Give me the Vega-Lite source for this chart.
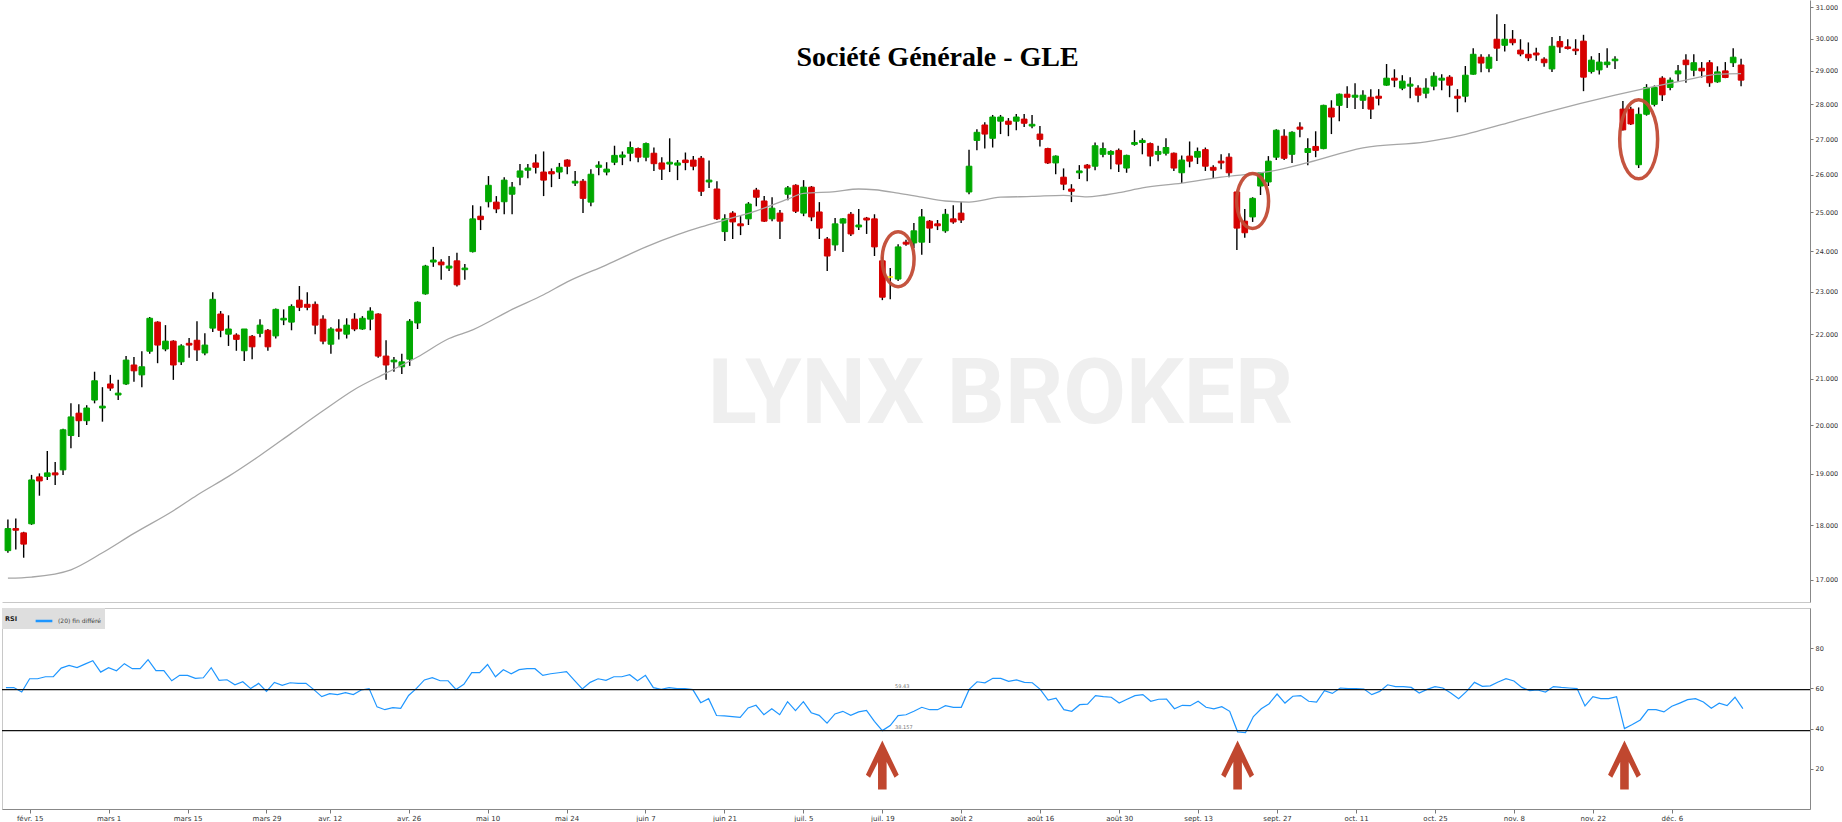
{
  "$schema": "https://vega.github.io/schema/vega-lite/v6.json",
  "padding": 0,
  "background": "white",
  "spacing": 5,
  "resolve": {"legend": {"color": "independent"}, "scale": {"color": "independent"}},
  "config": {"view": {"stroke": null}, "font": "DejaVu Sans", "axis": {"labelFont": "DejaVu Sans"}},
  "datasets": {
    "px": [
      {"d":"2021-02-10","o":17.53,"h":18.11,"l":17.49,"c":17.94,"r":60.4},
      {"d":"2021-02-11","o":17.94,"h":18.13,"l":17.55,"c":17.91,"r":60.4},
      {"d":"2021-02-12","o":17.86,"h":17.88,"l":17.40,"c":17.65,"r":58.2},
      {"d":"2021-02-15","o":18.03,"h":18.98,"l":18.01,"c":18.88,"r":64.8},
      {"d":"2021-02-16","o":18.94,"h":19.01,"l":18.57,"c":18.86,"r":64.8},
      {"d":"2021-02-17","o":18.95,"h":19.46,"l":18.88,"c":19.02,"r":65.8},
      {"d":"2021-02-18","o":19.02,"h":19.24,"l":18.78,"c":18.98,"r":65.8},
      {"d":"2021-02-19","o":19.08,"h":19.92,"l":18.98,"c":19.90,"r":70.1},
      {"d":"2021-02-22","o":19.78,"h":20.46,"l":19.52,"c":20.17,"r":71.4},
      {"d":"2021-02-23","o":20.25,"h":20.44,"l":19.75,"c":20.09,"r":70.4},
      {"d":"2021-02-24","o":20.09,"h":20.42,"l":20.00,"c":20.36,"r":72.1},
      {"d":"2021-02-25","o":20.53,"h":21.15,"l":20.46,"c":20.95,"r":73.8},
      {"d":"2021-02-26","o":20.36,"h":20.81,"l":20.07,"c":20.40,"r":68.1},
      {"d":"2021-03-01","o":20.88,"h":21.08,"l":20.73,"c":20.79,"r":70.3},
      {"d":"2021-03-02","o":20.64,"h":20.97,"l":20.53,"c":20.68,"r":68.8},
      {"d":"2021-03-03","o":20.88,"h":21.50,"l":20.86,"c":21.41,"r":72.3},
      {"d":"2021-03-04","o":21.30,"h":21.48,"l":20.93,"c":21.17,"r":69.8},
      {"d":"2021-03-05","o":21.08,"h":21.61,"l":20.81,"c":21.26,"r":69.8},
      {"d":"2021-03-08","o":21.61,"h":22.40,"l":21.55,"c":22.37,"r":74.3},
      {"d":"2021-03-09","o":22.28,"h":22.30,"l":21.34,"c":21.75,"r":68.8},
      {"d":"2021-03-10","o":21.66,"h":22.21,"l":21.61,"c":21.84,"r":68.8},
      {"d":"2021-03-11","o":21.84,"h":21.86,"l":20.97,"c":21.30,"r":63.8},
      {"d":"2021-03-12","o":21.37,"h":21.77,"l":21.30,"c":21.73,"r":66.5},
      {"d":"2021-03-15","o":21.79,"h":21.91,"l":21.46,"c":21.75,"r":66.5},
      {"d":"2021-03-16","o":21.86,"h":22.30,"l":21.39,"c":21.64,"r":65.0},
      {"d":"2021-03-17","o":21.57,"h":22.02,"l":21.52,"c":21.75,"r":65.3},
      {"d":"2021-03-18","o":22.14,"h":22.99,"l":22.05,"c":22.82,"r":70.3},
      {"d":"2021-03-19","o":22.47,"h":22.54,"l":21.93,"c":22.09,"r":64.0},
      {"d":"2021-03-22","o":22.00,"h":22.44,"l":21.73,"c":22.12,"r":64.3},
      {"d":"2021-03-23","o":21.98,"h":22.02,"l":21.62,"c":21.88,"r":61.8},
      {"d":"2021-03-24","o":21.62,"h":22.12,"l":21.39,"c":22.12,"r":63.3},
      {"d":"2021-03-25","o":21.95,"h":21.98,"l":21.43,"c":21.71,"r":59.9},
      {"d":"2021-03-26","o":22.02,"h":22.35,"l":21.93,"c":22.21,"r":62.5},
      {"d":"2021-03-29","o":22.09,"h":22.12,"l":21.62,"c":21.71,"r":58.5},
      {"d":"2021-03-30","o":21.96,"h":22.60,"l":21.90,"c":22.58,"r":63.0},
      {"d":"2021-03-31","o":22.33,"h":22.58,"l":22.21,"c":22.37,"r":61.5},
      {"d":"2021-04-01","o":22.28,"h":22.70,"l":22.09,"c":22.65,"r":62.8},
      {"d":"2021-04-06","o":22.80,"h":23.14,"l":22.54,"c":22.63,"r":62.5},
      {"d":"2021-04-07","o":22.70,"h":22.99,"l":22.56,"c":22.63,"r":62.5},
      {"d":"2021-04-08","o":22.70,"h":22.77,"l":22.00,"c":22.21,"r":59.4},
      {"d":"2021-04-09","o":22.35,"h":22.44,"l":21.77,"c":21.84,"r":55.9},
      {"d":"2021-04-12","o":21.77,"h":22.16,"l":21.55,"c":22.12,"r":57.4},
      {"d":"2021-04-13","o":22.12,"h":22.35,"l":21.88,"c":22.07,"r":56.9},
      {"d":"2021-04-14","o":22.00,"h":22.37,"l":21.90,"c":22.21,"r":57.9},
      {"d":"2021-04-15","o":22.35,"h":22.49,"l":22.07,"c":22.12,"r":56.9},
      {"d":"2021-04-16","o":22.12,"h":22.42,"l":22.10,"c":22.37,"r":59.2},
      {"d":"2021-04-19","o":22.35,"h":22.63,"l":22.09,"c":22.54,"r":59.9},
      {"d":"2021-04-20","o":22.47,"h":22.49,"l":21.46,"c":21.50,"r":50.8},
      {"d":"2021-04-21","o":21.50,"h":21.86,"l":20.97,"c":21.30,"r":49.4},
      {"d":"2021-04-22","o":21.37,"h":21.48,"l":21.15,"c":21.41,"r":50.4},
      {"d":"2021-04-23","o":21.26,"h":21.55,"l":21.10,"c":21.37,"r":50.1},
      {"d":"2021-04-26","o":21.43,"h":22.35,"l":21.28,"c":22.30,"r":56.5},
      {"d":"2021-04-27","o":22.26,"h":22.77,"l":22.12,"c":22.75,"r":60.0},
      {"d":"2021-04-28","o":22.95,"h":23.66,"l":22.93,"c":23.63,"r":64.2},
      {"d":"2021-04-29","o":23.73,"h":24.11,"l":23.61,"c":23.78,"r":65.3},
      {"d":"2021-04-30","o":23.73,"h":23.80,"l":23.29,"c":23.66,"r":63.8},
      {"d":"2021-05-03","o":23.58,"h":23.88,"l":23.51,"c":23.63,"r":63.8},
      {"d":"2021-05-04","o":23.76,"h":23.96,"l":23.13,"c":23.17,"r":59.5},
      {"d":"2021-05-05","o":23.54,"h":23.68,"l":23.29,"c":23.58,"r":62.0},
      {"d":"2021-05-06","o":23.99,"h":25.19,"l":23.97,"c":24.83,"r":67.8},
      {"d":"2021-05-07","o":24.90,"h":25.16,"l":24.54,"c":24.81,"r":67.8},
      {"d":"2021-05-10","o":25.28,"h":25.97,"l":25.13,"c":25.72,"r":71.9},
      {"d":"2021-05-11","o":25.27,"h":25.43,"l":24.98,"c":25.09,"r":65.8},
      {"d":"2021-05-12","o":25.28,"h":25.94,"l":24.95,"c":25.86,"r":69.3},
      {"d":"2021-05-13","o":25.48,"h":25.81,"l":24.95,"c":25.67,"r":67.3},
      {"d":"2021-05-14","o":25.94,"h":26.30,"l":25.72,"c":26.11,"r":69.3},
      {"d":"2021-05-17","o":26.13,"h":26.30,"l":25.91,"c":26.19,"r":69.8},
      {"d":"2021-05-18","o":26.33,"h":26.57,"l":26.04,"c":26.21,"r":69.8},
      {"d":"2021-05-19","o":26.08,"h":26.65,"l":25.43,"c":25.86,"r":66.5},
      {"d":"2021-05-20","o":26.09,"h":26.18,"l":25.67,"c":26.03,"r":67.3},
      {"d":"2021-05-21","o":26.08,"h":26.33,"l":25.89,"c":26.21,"r":67.8},
      {"d":"2021-05-24","o":26.41,"h":26.43,"l":26.02,"c":26.24,"r":68.3},
      {"d":"2021-05-25","o":25.78,"h":26.11,"l":25.70,"c":25.83,"r":64.0},
      {"d":"2021-05-26","o":25.83,"h":25.89,"l":24.98,"c":25.37,"r":59.7},
      {"d":"2021-05-27","o":25.27,"h":26.16,"l":25.16,"c":26.02,"r":63.0},
      {"d":"2021-05-28","o":26.21,"h":26.38,"l":25.99,"c":26.27,"r":64.8},
      {"d":"2021-05-31","o":26.08,"h":26.35,"l":25.99,"c":26.16,"r":64.0},
      {"d":"2021-06-01","o":26.35,"h":26.81,"l":26.27,"c":26.54,"r":65.8},
      {"d":"2021-06-02","o":26.49,"h":26.65,"l":26.27,"c":26.55,"r":65.8},
      {"d":"2021-06-03","o":26.60,"h":26.93,"l":26.38,"c":26.76,"r":66.8},
      {"d":"2021-06-04","o":26.73,"h":26.76,"l":26.35,"c":26.49,"r":63.8},
      {"d":"2021-06-07","o":26.49,"h":26.90,"l":26.38,"c":26.87,"r":66.5},
      {"d":"2021-06-08","o":26.60,"h":26.76,"l":26.11,"c":26.31,"r":60.4},
      {"d":"2021-06-09","o":26.33,"h":26.49,"l":25.86,"c":26.16,"r":59.5},
      {"d":"2021-06-10","o":26.30,"h":27.02,"l":26.08,"c":26.35,"r":60.4},
      {"d":"2021-06-11","o":26.27,"h":26.41,"l":25.86,"c":26.33,"r":59.9},
      {"d":"2021-06-14","o":26.41,"h":26.62,"l":26.13,"c":26.34,"r":59.9},
      {"d":"2021-06-15","o":26.41,"h":26.52,"l":26.13,"c":26.24,"r":59.4},
      {"d":"2021-06-16","o":26.46,"h":26.52,"l":25.43,"c":25.56,"r":52.9},
      {"d":"2021-06-17","o":25.81,"h":26.40,"l":25.65,"c":25.86,"r":54.9},
      {"d":"2021-06-18","o":25.62,"h":25.83,"l":24.80,"c":24.83,"r":46.5},
      {"d":"2021-06-21","o":24.50,"h":24.95,"l":24.26,"c":24.83,"r":46.3},
      {"d":"2021-06-22","o":24.98,"h":25.03,"l":24.31,"c":24.75,"r":46.0},
      {"d":"2021-06-23","o":24.70,"h":24.90,"l":24.41,"c":24.65,"r":45.6},
      {"d":"2021-06-24","o":24.83,"h":25.27,"l":24.67,"c":25.22,"r":50.3},
      {"d":"2021-06-25","o":25.59,"h":25.65,"l":25.16,"c":25.40,"r":51.6},
      {"d":"2021-06-28","o":25.30,"h":25.43,"l":24.75,"c":24.77,"r":46.9},
      {"d":"2021-06-29","o":24.83,"h":25.40,"l":24.77,"c":25.11,"r":49.9},
      {"d":"2021-06-30","o":24.98,"h":25.06,"l":24.31,"c":24.77,"r":46.9},
      {"d":"2021-07-01","o":25.48,"h":25.70,"l":25.32,"c":25.65,"r":53.4},
      {"d":"2021-07-02","o":25.72,"h":25.75,"l":24.98,"c":25.03,"r":48.9},
      {"d":"2021-07-05","o":24.98,"h":25.86,"l":24.90,"c":25.67,"r":53.4},
      {"d":"2021-07-06","o":25.67,"h":25.70,"l":24.77,"c":24.88,"r":47.9},
      {"d":"2021-07-07","o":25.01,"h":25.27,"l":24.31,"c":24.59,"r":46.6},
      {"d":"2021-07-08","o":24.31,"h":24.36,"l":23.51,"c":23.88,"r":42.7},
      {"d":"2021-07-09","o":24.16,"h":24.85,"l":24.01,"c":24.70,"r":47.3},
      {"d":"2021-07-12","o":24.72,"h":24.85,"l":23.98,"c":24.83,"r":48.6},
      {"d":"2021-07-13","o":24.95,"h":25.01,"l":24.39,"c":24.44,"r":46.6},
      {"d":"2021-07-14","o":24.62,"h":25.09,"l":24.54,"c":24.67,"r":48.3},
      {"d":"2021-07-15","o":24.85,"h":24.88,"l":24.44,"c":24.80,"r":49.1},
      {"d":"2021-07-16","o":24.83,"h":24.95,"l":23.88,"c":24.11,"r":43.6},
      {"d":"2021-07-19","o":23.76,"h":23.86,"l":22.80,"c":22.87,"r":39.0},
      {"d":"2021-07-20","o":23.36,"h":23.58,"l":22.82,"c":23.36,"r":41.5},
      {"d":"2021-07-21","o":23.31,"h":24.18,"l":23.26,"c":24.11,"r":46.5},
      {"d":"2021-07-22","o":24.23,"h":24.29,"l":24.14,"c":24.18,"r":46.9},
      {"d":"2021-07-23","o":24.21,"h":24.72,"l":24.08,"c":24.52,"r":48.6},
      {"d":"2021-07-26","o":24.23,"h":25.09,"l":23.91,"c":24.88,"r":50.6},
      {"d":"2021-07-27","o":24.77,"h":24.80,"l":24.21,"c":24.59,"r":49.4},
      {"d":"2021-07-28","o":24.70,"h":24.80,"l":24.54,"c":24.65,"r":49.4},
      {"d":"2021-07-29","o":24.52,"h":25.09,"l":24.47,"c":24.95,"r":51.4},
      {"d":"2021-07-30","o":24.83,"h":25.19,"l":24.70,"c":24.75,"r":50.6},
      {"d":"2021-08-02","o":24.98,"h":25.27,"l":24.72,"c":24.80,"r":50.6},
      {"d":"2021-08-03","o":25.54,"h":26.70,"l":25.48,"c":26.24,"r":59.5},
      {"d":"2021-08-04","o":26.96,"h":27.28,"l":26.68,"c":27.19,"r":63.3},
      {"d":"2021-08-05","o":27.40,"h":27.48,"l":26.73,"c":27.14,"r":62.8},
      {"d":"2021-08-06","o":27.02,"h":27.69,"l":26.76,"c":27.63,"r":65.0},
      {"d":"2021-08-09","o":27.51,"h":27.69,"l":27.14,"c":27.63,"r":65.0},
      {"d":"2021-08-10","o":27.51,"h":27.60,"l":27.08,"c":27.42,"r":63.5},
      {"d":"2021-08-11","o":27.51,"h":27.72,"l":27.25,"c":27.63,"r":64.2},
      {"d":"2021-08-12","o":27.57,"h":27.72,"l":27.34,"c":27.45,"r":63.0},
      {"d":"2021-08-13","o":27.37,"h":27.69,"l":27.31,"c":27.42,"r":62.8},
      {"d":"2021-08-16","o":27.14,"h":27.37,"l":26.79,"c":26.99,"r":59.5},
      {"d":"2021-08-17","o":26.73,"h":26.75,"l":26.30,"c":26.33,"r":54.2},
      {"d":"2021-08-18","o":26.33,"h":26.54,"l":26.02,"c":26.52,"r":55.1},
      {"d":"2021-08-19","o":25.94,"h":26.18,"l":25.59,"c":25.75,"r":49.4},
      {"d":"2021-08-20","o":25.62,"h":25.75,"l":25.27,"c":25.56,"r":48.6},
      {"d":"2021-08-23","o":26.06,"h":26.27,"l":25.89,"c":26.11,"r":51.9},
      {"d":"2021-08-24","o":26.27,"h":26.30,"l":25.83,"c":26.19,"r":52.2},
      {"d":"2021-08-25","o":26.24,"h":26.90,"l":26.13,"c":26.81,"r":56.4},
      {"d":"2021-08-26","o":26.57,"h":26.90,"l":26.49,"c":26.73,"r":55.9},
      {"d":"2021-08-27","o":26.57,"h":26.68,"l":26.16,"c":26.65,"r":55.6},
      {"d":"2021-08-30","o":26.68,"h":26.73,"l":26.08,"c":26.30,"r":52.7},
      {"d":"2021-08-31","o":26.19,"h":26.56,"l":26.06,"c":26.54,"r":54.6},
      {"d":"2021-09-01","o":26.85,"h":27.25,"l":26.81,"c":26.90,"r":56.4},
      {"d":"2021-09-02","o":26.90,"h":27.02,"l":26.57,"c":26.96,"r":56.9},
      {"d":"2021-09-03","o":26.87,"h":26.90,"l":26.24,"c":26.52,"r":53.6},
      {"d":"2021-09-06","o":26.57,"h":26.81,"l":26.38,"c":26.65,"r":54.6},
      {"d":"2021-09-07","o":26.60,"h":27.02,"l":26.54,"c":26.76,"r":54.7},
      {"d":"2021-09-08","o":26.60,"h":26.62,"l":26.11,"c":26.19,"r":49.9},
      {"d":"2021-09-09","o":26.06,"h":26.54,"l":25.78,"c":26.41,"r":51.6},
      {"d":"2021-09-10","o":26.52,"h":26.93,"l":26.21,"c":26.38,"r":51.4},
      {"d":"2021-09-13","o":26.49,"h":26.76,"l":26.30,"c":26.65,"r":53.6},
      {"d":"2021-09-14","o":26.70,"h":26.76,"l":26.11,"c":26.24,"r":50.6},
      {"d":"2021-09-15","o":26.21,"h":26.27,"l":25.91,"c":26.13,"r":49.8},
      {"d":"2021-09-16","o":26.38,"h":26.57,"l":26.16,"c":26.33,"r":50.9},
      {"d":"2021-09-17","o":26.49,"h":26.60,"l":25.94,"c":26.06,"r":48.6},
      {"d":"2021-09-20","o":25.54,"h":25.56,"l":24.03,"c":24.59,"r":38.4},
      {"d":"2021-09-21","o":24.77,"h":25.09,"l":24.34,"c":24.47,"r":38.0},
      {"d":"2021-09-22","o":24.88,"h":25.40,"l":24.75,"c":25.37,"r":46.0},
      {"d":"2021-09-23","o":25.70,"h":26.08,"l":25.46,"c":26.06,"r":49.9},
      {"d":"2021-09-24","o":25.81,"h":26.52,"l":25.70,"c":26.38,"r":52.4},
      {"d":"2021-09-27","o":26.49,"h":27.28,"l":26.41,"c":27.25,"r":57.2},
      {"d":"2021-09-28","o":27.08,"h":27.28,"l":26.41,"c":26.46,"r":52.7},
      {"d":"2021-09-29","o":26.57,"h":27.22,"l":26.33,"c":27.19,"r":56.1},
      {"d":"2021-09-30","o":27.34,"h":27.48,"l":27.05,"c":27.28,"r":56.4},
      {"d":"2021-10-01","o":26.62,"h":27.02,"l":26.27,"c":26.73,"r":53.6},
      {"d":"2021-10-04","o":26.79,"h":27.22,"l":26.49,"c":26.68,"r":53.2},
      {"d":"2021-10-05","o":26.73,"h":27.99,"l":26.71,"c":27.97,"r":58.9},
      {"d":"2021-10-06","o":27.89,"h":28.12,"l":27.14,"c":27.63,"r":57.5},
      {"d":"2021-10-07","o":27.97,"h":28.32,"l":27.51,"c":28.30,"r":60.2},
      {"d":"2021-10-08","o":28.30,"h":28.54,"l":27.89,"c":28.21,"r":59.9},
      {"d":"2021-10-11","o":28.21,"h":28.63,"l":27.86,"c":28.27,"r":59.9},
      {"d":"2021-10-12","o":28.12,"h":28.42,"l":27.86,"c":28.27,"r":59.7},
      {"d":"2021-10-13","o":28.21,"h":28.45,"l":27.57,"c":27.86,"r":56.9},
      {"d":"2021-10-14","o":28.24,"h":28.45,"l":27.97,"c":28.18,"r":58.5},
      {"d":"2021-10-15","o":28.57,"h":29.21,"l":28.55,"c":28.78,"r":61.8},
      {"d":"2021-10-18","o":28.78,"h":29.05,"l":28.51,"c":28.72,"r":60.9},
      {"d":"2021-10-19","o":28.48,"h":28.87,"l":28.42,"c":28.69,"r":60.9},
      {"d":"2021-10-20","o":28.54,"h":28.81,"l":28.18,"c":28.60,"r":60.5},
      {"d":"2021-10-21","o":28.48,"h":28.57,"l":28.06,"c":28.27,"r":57.7},
      {"d":"2021-10-22","o":28.33,"h":28.78,"l":28.18,"c":28.48,"r":59.5},
      {"d":"2021-10-25","o":28.54,"h":28.96,"l":28.42,"c":28.84,"r":60.9},
      {"d":"2021-10-26","o":28.72,"h":28.90,"l":28.42,"c":28.78,"r":60.2},
      {"d":"2021-10-27","o":28.81,"h":28.87,"l":28.21,"c":28.57,"r":57.7},
      {"d":"2021-10-28","o":28.24,"h":28.45,"l":27.77,"c":28.18,"r":54.9},
      {"d":"2021-10-29","o":28.24,"h":29.15,"l":28.06,"c":28.87,"r":58.5},
      {"d":"2021-11-01","o":28.90,"h":29.70,"l":28.88,"c":29.51,"r":63.0},
      {"d":"2021-11-02","o":29.42,"h":29.51,"l":28.96,"c":29.24,"r":61.0},
      {"d":"2021-11-03","o":29.08,"h":29.51,"l":28.96,"c":29.42,"r":61.3},
      {"d":"2021-11-04","o":29.98,"h":30.78,"l":29.30,"c":29.70,"r":63.2},
      {"d":"2021-11-05","o":29.79,"h":30.46,"l":29.60,"c":29.98,"r":64.8},
      {"d":"2021-11-08","o":29.98,"h":30.27,"l":29.79,"c":29.87,"r":63.7},
      {"d":"2021-11-09","o":29.64,"h":29.98,"l":29.45,"c":29.52,"r":60.5},
      {"d":"2021-11-10","o":29.51,"h":29.88,"l":29.30,"c":29.40,"r":58.9},
      {"d":"2021-11-11","o":29.55,"h":29.71,"l":29.31,"c":29.49,"r":59.2},
      {"d":"2021-11-12","o":29.36,"h":29.42,"l":29.13,"c":29.25,"r":58.2},
      {"d":"2021-11-15","o":29.06,"h":30.05,"l":28.97,"c":29.76,"r":60.9},
      {"d":"2021-11-16","o":29.91,"h":30.08,"l":29.55,"c":29.74,"r":60.5},
      {"d":"2021-11-17","o":29.74,"h":29.98,"l":29.66,"c":29.69,"r":60.2},
      {"d":"2021-11-18","o":29.67,"h":29.98,"l":29.49,"c":29.62,"r":59.9},
      {"d":"2021-11-19","o":29.92,"h":30.12,"l":28.39,"c":28.81,"r":51.3},
      {"d":"2021-11-22","o":28.98,"h":29.45,"l":28.92,"c":29.33,"r":55.9},
      {"d":"2021-11-23","o":29.03,"h":29.55,"l":28.89,"c":29.27,"r":54.9},
      {"d":"2021-11-24","o":29.19,"h":29.70,"l":29.10,"c":29.27,"r":54.9},
      {"d":"2021-11-25","o":29.31,"h":29.45,"l":29.06,"c":29.36,"r":55.9},
      {"d":"2021-11-26","o":27.86,"h":28.10,"l":27.24,"c":27.26,"r":40.0},
      {"d":"2021-11-29","o":27.86,"h":27.93,"l":27.40,"c":27.43,"r":42.0},
      {"d":"2021-11-30","o":26.28,"h":27.91,"l":26.19,"c":27.71,"r":44.3},
      {"d":"2021-12-01","o":27.71,"h":28.60,"l":27.67,"c":28.50,"r":49.4},
      {"d":"2021-12-02","o":28.00,"h":28.56,"l":27.94,"c":28.50,"r":49.4},
      {"d":"2021-12-03","o":28.78,"h":28.84,"l":28.10,"c":28.28,"r":48.3},
      {"d":"2021-12-06","o":28.50,"h":28.80,"l":28.42,"c":28.72,"r":51.1},
      {"d":"2021-12-07","o":28.91,"h":29.18,"l":28.67,"c":29.00,"r":52.7},
      {"d":"2021-12-08","o":29.33,"h":29.51,"l":28.64,"c":29.19,"r":54.4},
      {"d":"2021-12-09","o":29.02,"h":29.51,"l":28.84,"c":29.25,"r":54.9},
      {"d":"2021-12-10","o":29.08,"h":29.27,"l":28.80,"c":29.00,"r":53.2},
      {"d":"2021-12-13","o":29.25,"h":29.33,"l":28.52,"c":28.64,"r":50.1},
      {"d":"2021-12-14","o":28.67,"h":29.14,"l":28.64,"c":28.97,"r":52.6},
      {"d":"2021-12-15","o":29.00,"h":29.27,"l":28.78,"c":28.80,"r":51.4},
      {"d":"2021-12-16","o":29.25,"h":29.70,"l":29.12,"c":29.42,"r":55.6},
      {"d":"2021-12-17","o":29.18,"h":29.37,"l":28.54,"c":28.72,"r":49.9}
    ],
    "ma": [
      {"d":"2021-02-10","m":17.03},{"d":"2021-02-15","m":17.05},{"d":"2021-02-22","m":17.18},
      {"d":"2021-02-26","m":17.49},{"d":"2021-03-04","m":17.85},{"d":"2021-03-11","m":18.28},
      {"d":"2021-03-16","m":18.58},{"d":"2021-03-22","m":18.95},{"d":"2021-03-26","m":19.37},
      {"d":"2021-04-01","m":19.83},{"d":"2021-04-09","m":20.30},{"d":"2021-04-15","m":20.76},
      {"d":"2021-04-21","m":21.12},{"d":"2021-04-27","m":21.48},{"d":"2021-05-03","m":21.90},
      {"d":"2021-05-06","m":22.10},{"d":"2021-05-13","m":22.58},{"d":"2021-05-19","m":22.93},
      {"d":"2021-05-24","m":23.24},{"d":"2021-05-31","m":23.66},{"d":"2021-06-07","m":24.11},
      {"d":"2021-06-11","m":24.42},{"d":"2021-06-16","m":24.62},{"d":"2021-06-21","m":24.80},
      {"d":"2021-06-25","m":25.04},{"d":"2021-07-01","m":25.35},{"d":"2021-07-05","m":25.50},
      {"d":"2021-07-09","m":25.55},{"d":"2021-07-14","m":25.62},{"d":"2021-07-16","m":25.60},
      {"d":"2021-07-21","m":25.51},{"d":"2021-07-26","m":25.40},{"d":"2021-07-29","m":25.30},
      {"d":"2021-08-03","m":25.27},{"d":"2021-08-09","m":25.40},{"d":"2021-08-13","m":25.42},
      {"d":"2021-08-19","m":25.45},{"d":"2021-08-24","m":25.41},{"d":"2021-08-30","m":25.52},
      {"d":"2021-09-02","m":25.65},{"d":"2021-09-09","m":25.78},{"d":"2021-09-16","m":25.94},
      {"d":"2021-09-24","m":26.09},{"d":"2021-10-01","m":26.34},{"d":"2021-10-12","m":26.75},
      {"d":"2021-10-22","m":26.92},{"d":"2021-10-28","m":27.08},{"d":"2021-11-02","m":27.25},
      {"d":"2021-11-08","m":27.50},{"d":"2021-11-12","m":27.75},{"d":"2021-11-25","m":28.27},
      {"d":"2021-12-01","m":28.48},{"d":"2021-12-08","m":28.72},{"d":"2021-12-14","m":28.90},
      {"d":"2021-12-17","m":28.92}
    ],
    "ell": [
      {"d":"2021-07-21","p":23.8,"k":"a"},
      {"d":"2021-09-22","p":25.3,"k":"a"},
      {"d":"2021-11-30","p":26.99,"k":"b"}
    ],
    "arr": [
      {"d":"2021-07-19","v":21.9},
      {"d":"2021-09-20","v":21.9},
      {"d":"2021-11-26","v":21.9}
    ],
    "lvl": [
      {"v":59.43,"t":"59.43"},
      {"v":39.0,"t":"38.157"}
    ]
  },
  "vconcat": [
    {
      "width": 1808,
      "height": 602,
      "encoding": {
        "x": {
          "field": "d", "type": "ordinal",
          "scale": {"paddingInner": 0, "paddingOuter": 0.25, "align": 0.5,
            "domain": ["2021-02-10","2021-02-11","2021-02-12","2021-02-15","2021-02-16","2021-02-17","2021-02-18","2021-02-19","2021-02-22","2021-02-23","2021-02-24","2021-02-25","2021-02-26","2021-03-01","2021-03-02","2021-03-03","2021-03-04","2021-03-05","2021-03-08","2021-03-09","2021-03-10","2021-03-11","2021-03-12","2021-03-15","2021-03-16","2021-03-17","2021-03-18","2021-03-19","2021-03-22","2021-03-23","2021-03-24","2021-03-25","2021-03-26","2021-03-29","2021-03-30","2021-03-31","2021-04-01","2021-04-06","2021-04-07","2021-04-08","2021-04-09","2021-04-12","2021-04-13","2021-04-14","2021-04-15","2021-04-16","2021-04-19","2021-04-20","2021-04-21","2021-04-22","2021-04-23","2021-04-26","2021-04-27","2021-04-28","2021-04-29","2021-04-30","2021-05-03","2021-05-04","2021-05-05","2021-05-06","2021-05-07","2021-05-10","2021-05-11","2021-05-12","2021-05-13","2021-05-14","2021-05-17","2021-05-18","2021-05-19","2021-05-20","2021-05-21","2021-05-24","2021-05-25","2021-05-26","2021-05-27","2021-05-28","2021-05-31","2021-06-01","2021-06-02","2021-06-03","2021-06-04","2021-06-07","2021-06-08","2021-06-09","2021-06-10","2021-06-11","2021-06-14","2021-06-15","2021-06-16","2021-06-17","2021-06-18","2021-06-21","2021-06-22","2021-06-23","2021-06-24","2021-06-25","2021-06-28","2021-06-29","2021-06-30","2021-07-01","2021-07-02","2021-07-05","2021-07-06","2021-07-07","2021-07-08","2021-07-09","2021-07-12","2021-07-13","2021-07-14","2021-07-15","2021-07-16","2021-07-19","2021-07-20","2021-07-21","2021-07-22","2021-07-23","2021-07-26","2021-07-27","2021-07-28","2021-07-29","2021-07-30","2021-08-02","2021-08-03","2021-08-04","2021-08-05","2021-08-06","2021-08-09","2021-08-10","2021-08-11","2021-08-12","2021-08-13","2021-08-16","2021-08-17","2021-08-18","2021-08-19","2021-08-20","2021-08-23","2021-08-24","2021-08-25","2021-08-26","2021-08-27","2021-08-30","2021-08-31","2021-09-01","2021-09-02","2021-09-03","2021-09-06","2021-09-07","2021-09-08","2021-09-09","2021-09-10","2021-09-13","2021-09-14","2021-09-15","2021-09-16","2021-09-17","2021-09-20","2021-09-21","2021-09-22","2021-09-23","2021-09-24","2021-09-27","2021-09-28","2021-09-29","2021-09-30","2021-10-01","2021-10-04","2021-10-05","2021-10-06","2021-10-07","2021-10-08","2021-10-11","2021-10-12","2021-10-13","2021-10-14","2021-10-15","2021-10-18","2021-10-19","2021-10-20","2021-10-21","2021-10-22","2021-10-25","2021-10-26","2021-10-27","2021-10-28","2021-10-29","2021-11-01","2021-11-02","2021-11-03","2021-11-04","2021-11-05","2021-11-08","2021-11-09","2021-11-10","2021-11-11","2021-11-12","2021-11-15","2021-11-16","2021-11-17","2021-11-18","2021-11-19","2021-11-22","2021-11-23","2021-11-24","2021-11-25","2021-11-26","2021-11-29","2021-11-30","2021-12-01","2021-12-02","2021-12-03","2021-12-06","2021-12-07","2021-12-08","2021-12-09","2021-12-10","2021-12-13","2021-12-14","2021-12-15","2021-12-16","2021-12-17","2021-12-20","2021-12-21","2021-12-22","2021-12-23","2021-12-24","2021-12-27","2021-12-28","2021-12-29"]
          },
          "axis": {"orient": "bottom", "labels": false, "ticks": false, "title": null, "domainColor": "#c8c8c8", "domainWidth": 1}
        }
      },
      "layer": [
        {
          "data": {"name": "px"},
          "mark": {"type": "rule", "color": "#000000", "strokeWidth": 1.4},
          "encoding": {
            "y": {"field": "h", "type": "quantitative", "scale": {"type": "log", "domain": [16.61, 31.24], "nice": false, "zero": false},
              "axis": {"orient": "right", "title": null, "values": [17,18,19,20,21,22,23,24,25,26,27,28,29,30,31], "labelExpr": "format(datum.value, '.3f')", "labelFontSize": 6.5, "labelColor": "#333333", "tickSize": 3, "tickColor": "#777777", "domainColor": "#888888", "labelPadding": 2, "grid": false}},
            "y2": {"field": "l"}
          }
        },
        {
          "data": {"name": "px"},
          "mark": {"type": "bar", "width": {"band": 0.72}, "strokeWidth": 1},
          "encoding": {
            "y": {
              "field": "o", "type": "quantitative",
              "scale": {"type": "log", "domain": [16.61, 31.24], "nice": false, "zero": false},
              "axis": {"orient": "right", "title": null, "values": [17,18,19,20,21,22,23,24,25,26,27,28,29,30,31], "labelExpr": "format(datum.value, '.3f')", "labelFontSize": 6.5, "labelColor": "#333333", "tickSize": 3, "tickColor": "#777777", "domainColor": "#888888", "labelPadding": 2, "grid": false}
            },
            "y2": {"field": "c"},
            "fill": {"condition": [{"test": "datum.c > datum.o", "value": "#00a800"}, {"test": "datum.c < datum.o", "value": "#d60000"}], "value": "#ffee00"},
            "stroke": {"condition": [{"test": "datum.c > datum.o", "value": "#00a800"}, {"test": "datum.c < datum.o", "value": "#d60000"}], "value": "#ffee00"}
          }
        },
        {
          "data": {"name": "ma"},
          "mark": {"type": "line", "color": "#a6a6a6", "strokeWidth": 1.3, "interpolate": "monotone"},
          "encoding": {
            "y": {"field": "m", "type": "quantitative", "scale": {"type": "log", "domain": [16.61, 31.24], "nice": false, "zero": false},
              "axis": {"orient": "right", "title": null, "values": [17,18,19,20,21,22,23,24,25,26,27,28,29,30,31], "labelExpr": "format(datum.value, '.3f')", "labelFontSize": 6.5, "labelColor": "#333333", "tickSize": 3, "tickColor": "#777777", "domainColor": "#888888", "labelPadding": 2, "grid": false}}
          }
        },
        {
          "data": {"values": [{}]},
          "mark": {"type": "text", "text": "LYNX BROKER", "font": "Roboto", "fontWeight": "bold", "fontSize": 91, "color": "#efefef", "align": "center", "baseline": "alphabetic"},
          "encoding": {
            "x": {"datum": "2021-08-09", "type": "ordinal"},
            "y": {"datum": 20.05, "type": "quantitative", "scale": {"type": "log", "domain": [16.61, 31.24], "nice": false, "zero": false},
              "axis": {"orient": "right", "title": null, "values": [17,18,19,20,21,22,23,24,25,26,27,28,29,30,31], "labelExpr": "format(datum.value, '.3f')", "labelFontSize": 6.5, "labelColor": "#333333", "tickSize": 3, "tickColor": "#777777", "domainColor": "#888888", "labelPadding": 2, "grid": false}}
          }
        },
        {
          "data": {"values": [{}]},
          "mark": {"type": "text", "text": "Société Générale - GLE", "font": "Liberation Serif", "fontWeight": "bold", "fontSize": 28, "color": "#000000", "align": "center", "baseline": "alphabetic"},
          "encoding": {
            "x": {"datum": "2021-07-28", "type": "ordinal"},
            "y": {"datum": 29.15, "type": "quantitative", "scale": {"type": "log", "domain": [16.61, 31.24], "nice": false, "zero": false},
              "axis": {"orient": "right", "title": null, "values": [17,18,19,20,21,22,23,24,25,26,27,28,29,30,31], "labelExpr": "format(datum.value, '.3f')", "labelFontSize": 6.5, "labelColor": "#333333", "tickSize": 3, "tickColor": "#777777", "domainColor": "#888888", "labelPadding": 2, "grid": false}}
          }
        },
        {
          "data": {"name": "ell"},
          "transform": [{"filter": "datum.k == 'a'"}],
          "mark": {"type": "point", "shape": "M 0.58 0 A 0.58 1 0 1 1 -0.58 0 A 0.58 1 0 1 1 0.58 0 Z", "size": 3025, "filled": false, "stroke": "#c24b35", "strokeWidth": 3.5, "opacity": 0.95},
          "encoding": {
            "y": {"field": "p", "type": "quantitative", "scale": {"type": "log", "domain": [16.61, 31.24], "nice": false, "zero": false},
              "axis": {"orient": "right", "title": null, "values": [17,18,19,20,21,22,23,24,25,26,27,28,29,30,31], "labelExpr": "format(datum.value, '.3f')", "labelFontSize": 6.5, "labelColor": "#333333", "tickSize": 3, "tickColor": "#777777", "domainColor": "#888888", "labelPadding": 2, "grid": false}}
          }
        },
        {
          "data": {"name": "ell"},
          "transform": [{"filter": "datum.k == 'b'"}],
          "mark": {"type": "point", "shape": "M 0.48 0 A 0.48 1 0 1 1 -0.48 0 A 0.48 1 0 1 1 0.48 0 Z", "size": 6241, "filled": false, "stroke": "#c24b35", "strokeWidth": 3.5, "opacity": 0.95},
          "encoding": {
            "y": {"field": "p", "type": "quantitative", "scale": {"type": "log", "domain": [16.61, 31.24], "nice": false, "zero": false},
              "axis": {"orient": "right", "title": null, "values": [17,18,19,20,21,22,23,24,25,26,27,28,29,30,31], "labelExpr": "format(datum.value, '.3f')", "labelFontSize": 6.5, "labelColor": "#333333", "tickSize": 3, "tickColor": "#777777", "domainColor": "#888888", "labelPadding": 2, "grid": false}}
          }
        }
      ]
    },
    {
      "width": 1808,
      "height": 201,
      "view": {"stroke": "#c8c8c8", "strokeWidth": 1},
      "encoding": {
        "x": {
          "field": "d", "type": "ordinal",
          "scale": {"paddingInner": 0, "paddingOuter": 0.25, "align": 0.5,
            "domain": ["2021-02-10","2021-02-11","2021-02-12","2021-02-15","2021-02-16","2021-02-17","2021-02-18","2021-02-19","2021-02-22","2021-02-23","2021-02-24","2021-02-25","2021-02-26","2021-03-01","2021-03-02","2021-03-03","2021-03-04","2021-03-05","2021-03-08","2021-03-09","2021-03-10","2021-03-11","2021-03-12","2021-03-15","2021-03-16","2021-03-17","2021-03-18","2021-03-19","2021-03-22","2021-03-23","2021-03-24","2021-03-25","2021-03-26","2021-03-29","2021-03-30","2021-03-31","2021-04-01","2021-04-06","2021-04-07","2021-04-08","2021-04-09","2021-04-12","2021-04-13","2021-04-14","2021-04-15","2021-04-16","2021-04-19","2021-04-20","2021-04-21","2021-04-22","2021-04-23","2021-04-26","2021-04-27","2021-04-28","2021-04-29","2021-04-30","2021-05-03","2021-05-04","2021-05-05","2021-05-06","2021-05-07","2021-05-10","2021-05-11","2021-05-12","2021-05-13","2021-05-14","2021-05-17","2021-05-18","2021-05-19","2021-05-20","2021-05-21","2021-05-24","2021-05-25","2021-05-26","2021-05-27","2021-05-28","2021-05-31","2021-06-01","2021-06-02","2021-06-03","2021-06-04","2021-06-07","2021-06-08","2021-06-09","2021-06-10","2021-06-11","2021-06-14","2021-06-15","2021-06-16","2021-06-17","2021-06-18","2021-06-21","2021-06-22","2021-06-23","2021-06-24","2021-06-25","2021-06-28","2021-06-29","2021-06-30","2021-07-01","2021-07-02","2021-07-05","2021-07-06","2021-07-07","2021-07-08","2021-07-09","2021-07-12","2021-07-13","2021-07-14","2021-07-15","2021-07-16","2021-07-19","2021-07-20","2021-07-21","2021-07-22","2021-07-23","2021-07-26","2021-07-27","2021-07-28","2021-07-29","2021-07-30","2021-08-02","2021-08-03","2021-08-04","2021-08-05","2021-08-06","2021-08-09","2021-08-10","2021-08-11","2021-08-12","2021-08-13","2021-08-16","2021-08-17","2021-08-18","2021-08-19","2021-08-20","2021-08-23","2021-08-24","2021-08-25","2021-08-26","2021-08-27","2021-08-30","2021-08-31","2021-09-01","2021-09-02","2021-09-03","2021-09-06","2021-09-07","2021-09-08","2021-09-09","2021-09-10","2021-09-13","2021-09-14","2021-09-15","2021-09-16","2021-09-17","2021-09-20","2021-09-21","2021-09-22","2021-09-23","2021-09-24","2021-09-27","2021-09-28","2021-09-29","2021-09-30","2021-10-01","2021-10-04","2021-10-05","2021-10-06","2021-10-07","2021-10-08","2021-10-11","2021-10-12","2021-10-13","2021-10-14","2021-10-15","2021-10-18","2021-10-19","2021-10-20","2021-10-21","2021-10-22","2021-10-25","2021-10-26","2021-10-27","2021-10-28","2021-10-29","2021-11-01","2021-11-02","2021-11-03","2021-11-04","2021-11-05","2021-11-08","2021-11-09","2021-11-10","2021-11-11","2021-11-12","2021-11-15","2021-11-16","2021-11-17","2021-11-18","2021-11-19","2021-11-22","2021-11-23","2021-11-24","2021-11-25","2021-11-26","2021-11-29","2021-11-30","2021-12-01","2021-12-02","2021-12-03","2021-12-06","2021-12-07","2021-12-08","2021-12-09","2021-12-10","2021-12-13","2021-12-14","2021-12-15","2021-12-16","2021-12-17","2021-12-20","2021-12-21","2021-12-22","2021-12-23","2021-12-24","2021-12-27","2021-12-28","2021-12-29"]
          },
          "axis": {
            "orient": "bottom", "title": null,
            "values": ["2021-02-15","2021-03-01","2021-03-15","2021-03-29","2021-04-12","2021-04-26","2021-05-10","2021-05-24","2021-06-07","2021-06-21","2021-07-05","2021-07-19","2021-08-02","2021-08-16","2021-08-30","2021-09-13","2021-09-27","2021-10-11","2021-10-25","2021-11-08","2021-11-22","2021-12-06"],
            "labelExpr": "['janv.','févr.','mars','avr.','mai','juin','juil.','août','sept.','oct.','nov.','déc.'][toNumber(substring(datum.value,5,7))-1] + ' ' + toNumber(substring(datum.value,8,10))",
            "labelAngle": 0, "labelFontSize": 7, "labelColor": "#333333", "labelOverlap": false, "labelPadding": 1,
            "tickSize": 4, "tickColor": "#777777", "domainColor": "#888888"
          }
        }
      },
      "layer": [
        {
          "data": {"name": "px"},
          "mark": {"type": "line", "strokeWidth": 1.2, "color": "#1e96ff"},
          "encoding": {
            "y": {
              "field": "r", "type": "quantitative",
              "scale": {"domain": [0, 100], "nice": false, "zero": false},
              "axis": {"orient": "right", "title": null, "values": [20, 40, 60, 80], "labelFontSize": 6.5, "labelColor": "#333333", "tickSize": 3, "tickColor": "#777777", "domainColor": "#888888", "labelPadding": 2, "grid": false}
            },
            "color": {
              "datum": "(20) fin différé", "type": "nominal",
              "scale": {"range": ["#1e96ff"]},
              "legend": {"orient": "top-left", "title": "RSI", "titleOrient": "left", "titleFontSize": 6.5, "titleFontWeight": "bold", "titleColor": "#222222", "titlePadding": 16, "labelFontSize": 6, "labelColor": "#444444", "symbolType": "stroke", "symbolStrokeWidth": 2.5, "symbolSize": 280, "fillColor": "#dedede", "padding": 3, "offset": 0, "direction": "horizontal"}
            }
          }
        },
        {
          "data": {"name": "lvl"},
          "mark": {"type": "rule", "color": "#111111", "strokeWidth": 1.3},
          "encoding": {
            "x": null,
            "y": {"field": "v", "type": "quantitative", "scale": {"domain": [0, 100], "nice": false, "zero": false},
              "axis": {"orient": "right", "title": null, "values": [20, 40, 60, 80], "labelFontSize": 6.5, "labelColor": "#333333", "tickSize": 3, "tickColor": "#777777", "domainColor": "#888888", "labelPadding": 2, "grid": false}}
          }
        },
        {
          "data": {"name": "lvl"},
          "mark": {"type": "text", "fontSize": 5, "color": "#777777", "align": "left", "baseline": "bottom", "dy": -1, "dx": -3},
          "encoding": {
            "x": {"datum": "2021-07-21", "type": "ordinal"},
            "y": {"field": "v", "type": "quantitative", "scale": {"domain": [0, 100], "nice": false, "zero": false},
              "axis": {"orient": "right", "title": null, "values": [20, 40, 60, 80], "labelFontSize": 6.5, "labelColor": "#333333", "tickSize": 3, "tickColor": "#777777", "domainColor": "#888888", "labelPadding": 2, "grid": false}},
            "text": {"field": "t"}
          }
        },
        {
          "data": {"name": "arr"},
          "mark": {"type": "point", "shape": "M 0 -1 L 0.67 0.4 L 0.5 0.52 L 0.175 -0.12 L 0.175 1 L -0.175 1 L -0.175 -0.12 L -0.5 0.52 L -0.67 0.4 Z", "size": 2401, "filled": true, "color": "#c0472f", "opacity": 1},
          "encoding": {
            "y": {"field": "v", "type": "quantitative", "scale": {"domain": [0, 100], "nice": false, "zero": false},
              "axis": {"orient": "right", "title": null, "values": [20, 40, 60, 80], "labelFontSize": 6.5, "labelColor": "#333333", "tickSize": 3, "tickColor": "#777777", "domainColor": "#888888", "labelPadding": 2, "grid": false}}
          }
        }
      ]
    }
  ]
}
